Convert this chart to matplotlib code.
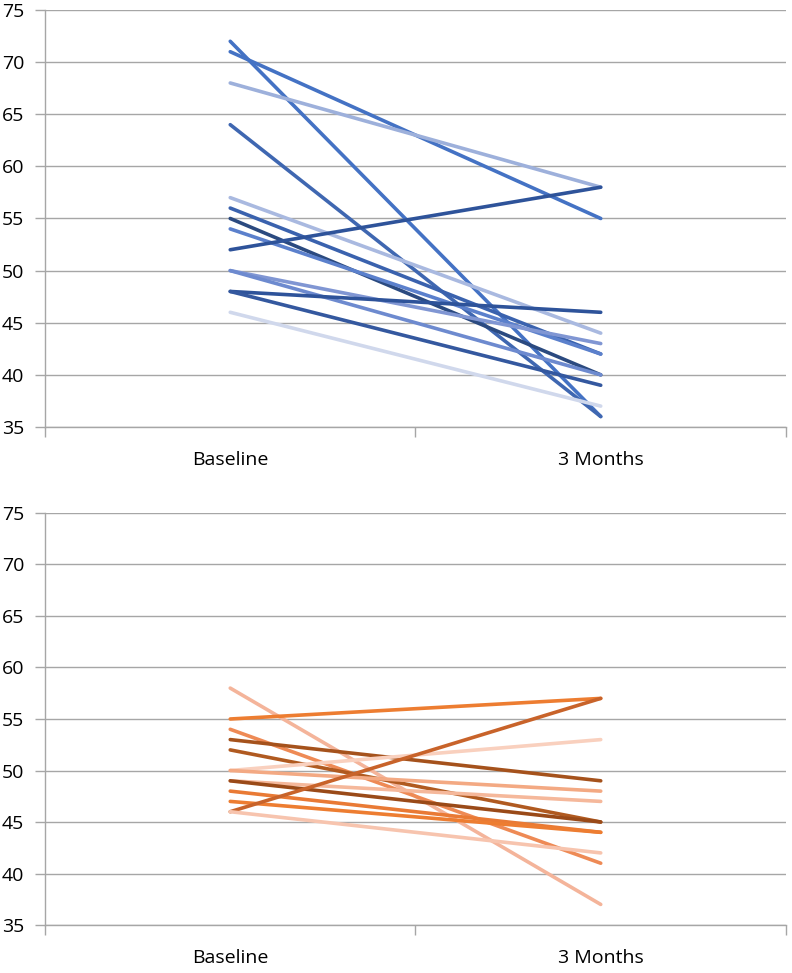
import numpy as np
import matplotlib
matplotlib.use("Agg")
import matplotlib.pyplot as plt

plt.rcParams['font.family'] = ['Open Sans', 'DejaVu Sans']

categories = ["Baseline", "3 Months"]
y_ticks = [35, 40, 45, 50, 55, 60, 65, 70, 75]

# top panel: (baseline, 3 months) per subject
top_baseline = [72, 71, 68, 64, 57, 56, 55, 54, 52, 50, 50, 48, 48, 46]
top_month3 = [36, 55, 58, 36, 44, 42, 40, 42, 58, 43, 40, 46, 39, 37]
top_colors = ["#4472C4", "#4472C4", "#9DB0DB", "#3F67B1", "#A9B9E0", "#3A62AE",
              "#2B4A80", "#5B80CC", "#2E539A", "#8096D3", "#6D8ACF", "#2E539A",
              "#34589F", "#D0D8EC"]

# bottom panel
bot_baseline = [58, 55, 54, 53, 52, 50, 50, 49, 49, 48, 47, 46, 46]
bot_month3 = [37, 57, 41, 49, 45, 53, 48, 47, 45, 44, 44, 57, 42]
bot_colors = ["#F4B49A", "#ED7D31", "#EE8A55", "#A5521C", "#B05A20", "#F9D0BE",
              "#F3A983", "#F5B89B", "#9A4A18", "#E97A35", "#ED7D31", "#C8632A",
              "#F7C4AE"]

GRID = "#A6A6A6"


def draw_panel(ax, baseline, month3, colors):
    xs = [0.5, 1.5]
    for b, m, c in zip(baseline, month3, colors):
        ax.plot(xs, [b, m], color=c, linewidth=2.6, solid_capstyle="round")
    ax.set_xlim(0, 2)
    ax.set_ylim(35, 75)
    ax.set_yticks(y_ticks)
    ax.set_xticks([0, 1, 2])
    ax.set_xticks(xs, minor=True)
    ax.set_xticklabels([])
    ax.set_xticklabels(categories, minor=True)
    ax.tick_params(axis="x", which="minor", length=0, pad=17, labelsize=14)
    ax.tick_params(axis="x", which="major", length=7, color=GRID, width=1)
    ax.tick_params(axis="y", length=7, color=GRID, width=1, labelsize=14, pad=8)
    ax.yaxis.grid(True, color=GRID, linewidth=1)
    ax.set_axisbelow(True)
    for s in ["top", "right"]:
        ax.spines[s].set_visible(False)
    for s in ["left", "bottom"]:
        ax.spines[s].set_color(GRID)
        ax.spines[s].set_linewidth(1)


fig = plt.figure(figsize=(7.92, 9.73), dpi=100)
ax1 = fig.add_axes([0.0568, 0.5612, 0.9356, 0.4285])
ax2 = fig.add_axes([0.0568, 0.0493, 0.9356, 0.4235])
draw_panel(ax1, top_baseline, top_month3, top_colors)
draw_panel(ax2, bot_baseline, bot_month3, bot_colors)

fig.savefig("out.png", dpi=100)
